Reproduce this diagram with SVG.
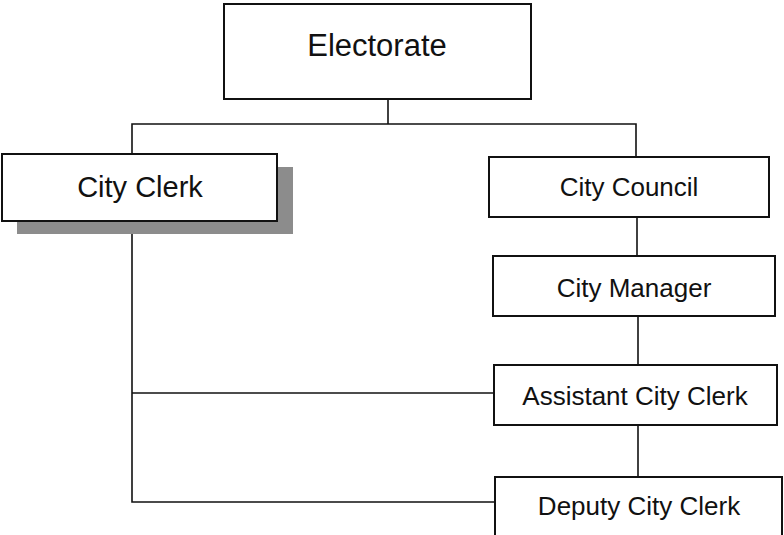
<svg xmlns="http://www.w3.org/2000/svg" width="784" height="535" viewBox="0 0 784 535">
<style>
.box{fill:#fff;stroke:#111;stroke-width:2}
.ln{fill:none;stroke:#111;stroke-width:1.6}
text{font-family:"Liberation Sans",Arial,sans-serif;fill:#111;text-anchor:middle}
.r{font-size:26px}
</style>
<rect width="784" height="535" fill="#fff"/>
<g id="connectors">
<line class="ln" x1="388" y1="99" x2="388" y2="124"/>
<polyline class="ln" points="132,154 132,124 636,124 636,157"/>
<line class="ln" x1="637" y1="217" x2="637" y2="256"/>
<line class="ln" x1="638" y1="316" x2="638" y2="365"/>
<line class="ln" x1="638" y1="425" x2="638" y2="477"/>
<polyline class="ln" points="132,234 132,502 495,502"/>
<line class="ln" x1="132" y1="393" x2="494" y2="393"/>
</g>
<g id="electorate">
<rect class="box" x="224" y="4" width="307" height="95"/>
<text x="377" y="56" font-size="31">Electorate</text>
</g>
<g id="city-clerk">
<rect x="17" y="167" width="276" height="67" fill="#8c8c8c"/>
<rect class="box" x="2" y="154" width="275" height="67"/>
<text x="140" y="197" font-size="29">City Clerk</text>
</g>
<g id="city-council">
<rect class="box" x="489" y="157" width="280" height="60"/>
<text class="r" x="629" y="196">City Council</text>
</g>
<g id="city-manager">
<rect class="box" x="493" y="256" width="282" height="60"/>
<text class="r" x="634" y="297">City Manager</text>
</g>
<g id="assistant-city-clerk">
<rect class="box" x="494" y="365" width="283" height="60"/>
<text class="r" x="635" y="405">Assistant City Clerk</text>
</g>
<g id="deputy-city-clerk">
<rect class="box" x="495" y="477" width="287" height="60"/>
<text class="r" x="639" y="515">Deputy City Clerk</text>
</g>
</svg>
